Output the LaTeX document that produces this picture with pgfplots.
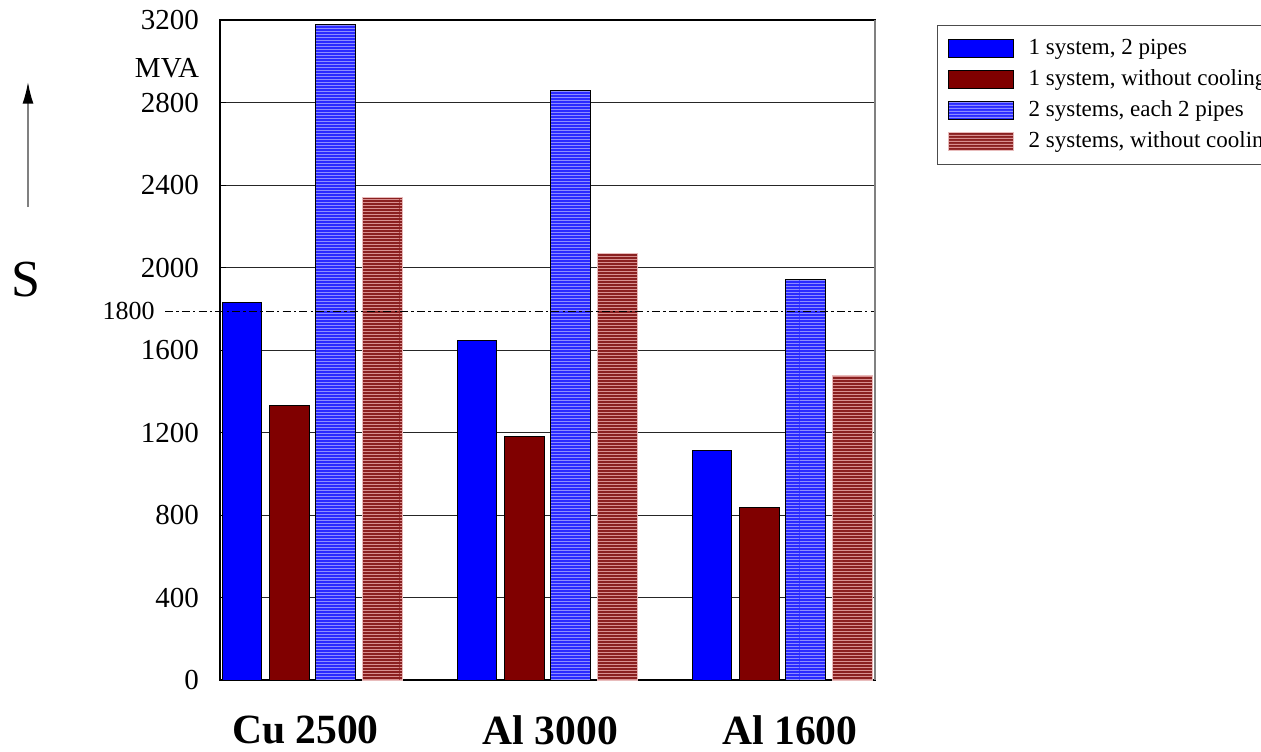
\documentclass[border=0pt]{standalone}
\usepackage{fontspec}
\setmainfont{Liberation Serif}
\usepackage{pgfplots}
\pgfplotsset{compat=1.18}
\usetikzlibrary{patterns, arrows.meta}
\definecolor{dred}{HTML}{800000}
\definecolor{hred}{HTML}{8A2020}
\definecolor{hredstripe}{HTML}{D89090}
\definecolor{hblue}{HTML}{2A2AFF}
\definecolor{hbluestripe}{HTML}{8C8CFF}
\pgfdeclarepatternformonly{hstripes}{\pgfpointorigin}{\pgfpoint{200pt}{1.5pt}}{\pgfpoint{200pt}{1.5pt}}{%
  \pgfpathrectangle{\pgfpointorigin}{\pgfpoint{200pt}{0.65pt}}\pgfusepath{fill}}
\begin{document}
\begin{tikzpicture}
\pgfplotstableread{
x v
0 1830
1 1645
2 1115
}\tA
\pgfplotstableread{
x v
0 1330
1 1180
2 835
}\tB
\pgfplotstableread{
x v
0 3180
1 2860
2 1940
}\tC
\pgfplotstableread{
x v
0 2340
1 2070
2 1475
}\tD
\begin{axis}[
  at={(0,0)}, anchor=south west,
  scale only axis, width=327.5pt, height=330pt,
  xmin=-0.3915, xmax=2.396, ymin=0, ymax=3200,
  ytick={0,400,...,3200},
  ymajorgrids, major grid style={black!85, line width=0.5pt},
  axis line style={black, line width=0.8pt},
  xtick={-0.028,1.015,2.034}, xticklabels={Cu 2500, Al 3000, Al 1600},
  x tick label style={font=\fontsize{20.8}{25}\selectfont\bfseries, yshift=-14.5pt},
  y tick label style={font=\fontsize{14.5}{17}\selectfont, xshift=-7pt},
  x tick style={draw=none},
  y tick style={black, line width=0.5pt},
  major tick length=3pt, tick align=inside, ytick pos=left,
  extra y ticks={2965}, extra y tick labels={MVA},
  extra y tick style={grid=none, major tick length=0pt},
  /pgf/number format/assume math mode=true,
  /pgf/number format/1000 sep={},
  clip=false,
  legend style={at={(1.0947,0.9924)}, anchor=north west, draw=black!70,
    line width=0.6pt,
    font=\fontsize{11.5}{14}\selectfont, row sep=2pt,
    inner xsep=5pt, inner ysep=5pt,
    nodes={inner xsep=7.5pt}},
  legend cell align=left,
  legend image code/.code={\draw[#1] (0pt,-4.5pt) rectangle (32.5pt,4.5pt);},
]
\addplot[ybar, bar width=0.168, bar shift=-0.298, fill=blue, draw=black, line width=0.5pt] table[x=x,y=v]{\tA};
\addlegendentry{1 system, 2 pipes}
\addplot[ybar, bar width=0.168, bar shift=-0.096, fill=dred, draw=black, line width=0.5pt] table[x=x,y=v]{\tB};
\addlegendentry{1 system, without cooling}
\addplot[ybar, bar width=0.168, bar shift=0.1, fill=hblue, draw=black, line width=0.5pt,
  postaction={pattern=hstripes, pattern color=hbluestripe}] table[x=x,y=v]{\tC};
\addlegendentry{2 systems, each 2 pipes}
\addplot[ybar, bar width=0.168, bar shift=0.3, fill=hred, draw=hredstripe!60!white, line width=0.5pt,
  postaction={pattern=hstripes, pattern color=hredstripe}] table[x=x,y=v]{\tD};
\addlegendentry{2 systems, without cooling}
\draw[black, line width=0.9pt, dash pattern=on 4pt off 1.6pt on 1.2pt off 1.6pt]
  (axis cs:-0.6255,1787) -- (axis cs:2.396,1787);
\node[anchor=east, inner sep=0pt, font=\fontsize{13}{15}\selectfont] at ([xshift=-5pt]axis cs:-0.6255,1787) {1800};
\draw[gray, line width=1pt] (rel axis cs:1,0) -- (rel axis cs:1,1);
\end{axis}
\draw[gray, line width=0.8pt, -{Latex[black, length=10.8pt, width=5.5pt]}] (-96pt,236.5pt) -- (-96pt,299pt);
\node[font=\fontsize{26}{30}\selectfont] at (-97pt,200pt) {S};
\pgfresetboundingbox
\useasboundingbox (-110pt,-35.5pt) rectangle (520.5pt,340pt);
\end{tikzpicture}
\end{document}
